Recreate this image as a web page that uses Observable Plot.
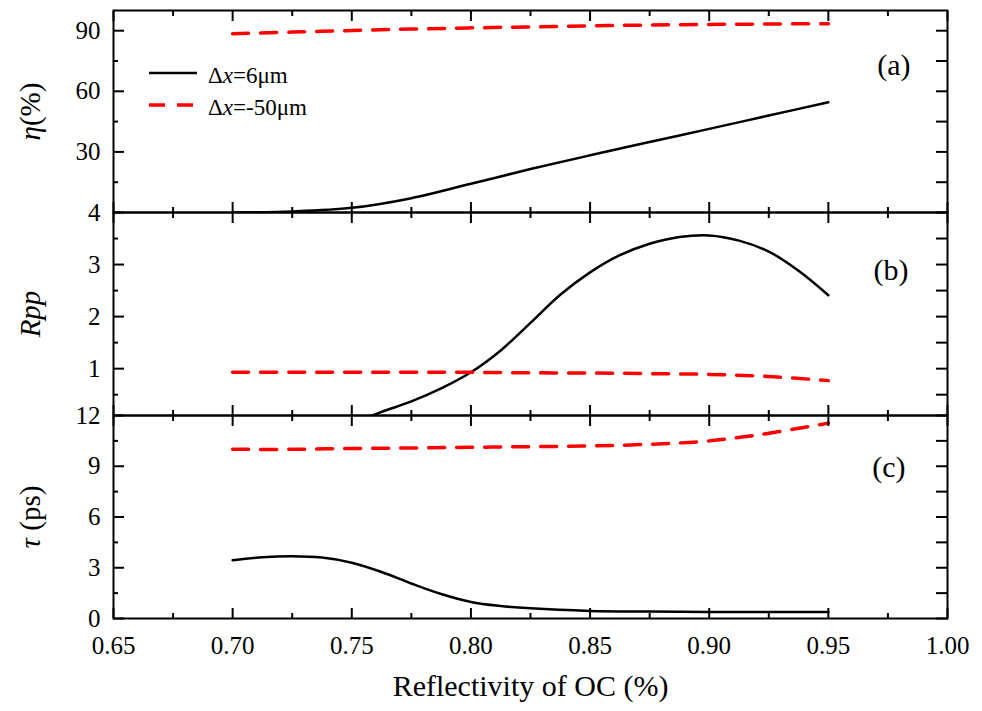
<!DOCTYPE html>
<html><head><meta charset="utf-8">
<script src="https://cdn.jsdelivr.net/npm/d3@7"></script>
<script src="https://cdn.jsdelivr.net/npm/@observablehq/plot@0.6"></script>
<style>
body{margin:0;background:#fff;}
#chart{position:relative;width:982px;height:711px;background:#fff;color:#000;font-family:"Liberation Serif","Times New Roman",serif;}
#chart svg{position:absolute;left:0;top:0;overflow:visible;}
</style></head><body><div id="chart"></div>
<script>
// ---------- data ----------
const xTicksMajor = [0.65, 0.70, 0.75, 0.80, 0.85, 0.90, 0.95, 1.00];
const xTicksMinor = [0.675, 0.725, 0.775, 0.825, 0.875, 0.925, 0.975];
const seriesNames = ["Δx=6μm", "Δx=-50μm"];
const panelLabels = ["(a)", "(b)", "(c)"];
const yTitles = ["η(%)", "Rpp", "τ (ps)"];
const xTitle = "Reflectivity of OC (%)";

const gridR = [0.70, 0.725, 0.75, 0.775, 0.80, 0.825, 0.85, 0.875, 0.90, 0.925, 0.95];

// (a) efficiency η (%)
const etaTicks = [30, 60, 90];
const etaMinor = [15, 45, 75];
const eta6 = [0, 0.5, 2.3, 7.1, 14.2, 21.5, 28.3, 34.9, 41.4, 48.0, 54.6];
const eta50 = [88.5, 89.3, 90.1, 90.8, 91.4, 91.9, 92.4, 92.8, 93.1, 93.3, 93.5];

// (b) Rpp
const rppTicks = [1, 2, 3, 4];
const rppMinor = [0.5, 1.5, 2.5, 3.5];
const rpp6R = [0.75, 0.7625, 0.775, 0.7875, 0.80, 0.8125, 0.825, 0.8375, 0.85, 0.8625, 0.875, 0.8875, 0.90, 0.9125, 0.925, 0.9375, 0.95];
const rpp6 = [-0.05, 0.17, 0.37, 0.62, 0.93, 1.35, 1.88, 2.42, 2.85, 3.18, 3.4, 3.53, 3.56, 3.46, 3.25, 2.88, 2.41];
const rpp50 = [0.93, 0.93, 0.93, 0.93, 0.93, 0.92, 0.915, 0.905, 0.89, 0.85, 0.77];

// (c) pulse width τ (ps)
const tauTicks = [0, 3, 6, 9, 12];
const tauMinor = [1.5, 4.5, 7.5, 10.5];
const tau6R = [0.70, 0.7125, 0.725, 0.7375, 0.75, 0.7625, 0.775, 0.7875, 0.80, 0.8125, 0.825, 0.85, 0.875, 0.90, 0.925, 0.95];
const tau6 = [3.44, 3.62, 3.68, 3.6, 3.3, 2.75, 2.07, 1.45, 0.98, 0.74, 0.6, 0.45, 0.41, 0.39, 0.38, 0.38];
const tau50 = [10.0, 10.0, 10.05, 10.08, 10.12, 10.16, 10.2, 10.3, 10.5, 10.95, 11.55];

// ---------- build ----------
const zip = (xs, ys) => xs.map((x, i) => ({x, y: ys[i]}));
const W = 982, H = 711;
const FONT = "Liberation Serif, Times New Roman, serif";
const RED = "#ff0000";

const panels = [
  {top: 10, bottom: 212, domain: [0, 100], major: etaTicks, minor: etaMinor,
   solid: zip(gridR, eta6), dashed: zip(gridR, eta50), label: panelLabels[0], ldx: -37, ldy: 55, title: yTitles[0]},
  {top: 212, bottom: 415, domain: [0.1, 4], major: rppTicks, minor: rppMinor,
   solid: zip(rpp6R, rpp6), dashed: zip(gridR, rpp50), label: panelLabels[1], ldx: -39, ldy: 58, title: yTitles[1]},
  {top: 415, bottom: 618, domain: [0, 12], major: tauTicks, minor: tauMinor,
   solid: zip(tau6R, tau6), dashed: zip(gridR, tau50), label: panelLabels[2], ldx: -42, ldy: 52, title: yTitles[2], xaxis: true}
];

const chart = document.getElementById("chart");
const svgs = panels.map((p, idx) => {
  const marks = [
    Plot.line(p.solid, {x: "x", y: "y", stroke: "black", strokeWidth: 2.5, curve: "catmull-rom", clip: true}),
    Plot.line(p.dashed, {x: "x", y: "y", stroke: RED, strokeWidth: 3.5, strokeDasharray: "16,12", curve: "catmull-rom", clip: true}),
    Plot.frame({stroke: "black", strokeWidth: 2}),
    // inward ticks
    Plot.axisX({anchor: "top", ticks: xTicksMajor, tickSize: -10, strokeWidth: 2, fill: "none", label: null}),
    Plot.axisX({anchor: "top", ticks: xTicksMinor, tickSize: -5, strokeWidth: 2, fill: "none", label: null}),
    Plot.axisX({anchor: "bottom", ticks: xTicksMajor, tickSize: -10, strokeWidth: 2, fill: "none", label: null}),
    Plot.axisX({anchor: "bottom", ticks: xTicksMinor, tickSize: -5, strokeWidth: 2, fill: "none", label: null}),
    Plot.axisY({anchor: "left", ticks: p.major, tickSize: -11, strokeWidth: 2, fill: "none", label: null}),
    Plot.axisY({anchor: "left", ticks: p.minor, tickSize: -5, strokeWidth: 2, fill: "none", label: null}),
    Plot.axisY({anchor: "right", ticks: p.major.concat(p.minor), tickSize: -12, strokeWidth: 2, fill: "none", label: null}),
    // tick labels
    Plot.axisY({anchor: "left", ticks: p.major, tickSize: 0, tickPadding: 13, fontSize: 25, tickFormat: d => String(d), label: null}),
    // panel label and axis title
    Plot.text([p.label], {frameAnchor: "top-right", dx: p.ldx, dy: p.ldy, textAnchor: "end", lineAnchor: "middle", fontSize: 30}),
    Plot.text([p.title], {frameAnchor: "left", dx: -83, rotate: -90, textAnchor: "middle", lineAnchor: "middle", fontSize: 29})
  ];
  if (p.xaxis) {
    marks.push(Plot.axisX({anchor: "bottom", ticks: xTicksMajor, tickSize: 0, tickPadding: 18, fontSize: 25, tickFormat: d3.format(".2f"), label: null}));
    marks.push(Plot.text([xTitle], {frameAnchor: "bottom", dy: 68, textAnchor: "middle", lineAnchor: "middle", fontSize: 30}));
  }
  const svg = Plot.plot({
    width: W, height: H,
    marginLeft: 113, marginRight: 35, marginTop: p.top, marginBottom: H - p.bottom,
    x: {domain: [0.65, 1.0]},
    y: {domain: p.domain},
    style: {background: "transparent", fontFamily: FONT, overflow: "visible", color: "black"},
    marks
  });
  chart.appendChild(svg);
  return svg;
});

// italic parts in axis titles
const italicMap = {
  "η(%)": '<tspan font-style="italic">η</tspan>(%)',
  "Rpp": '<tspan font-style="italic">Rpp</tspan>',
  "τ (ps)": '<tspan font-style="italic">τ</tspan> (ps)'
};
svgs.forEach(svg => {
  svg.querySelectorAll("text").forEach(t => {
    const k = t.textContent;
    if (italicMap[k]) t.innerHTML = italicMap[k];
  });
});

// legend (panel a)
const lg = d3.select(svgs[0]).append("g").attr("font-family", FONT).attr("font-size", 23).attr("text-anchor", "start");
const legendStyles = [
  {stroke: "black", width: 2.5, dash: null},
  {stroke: RED, width: 3.5, dash: "16,12"}
];
seriesNames.forEach((name, i) => {
  const y = 73 + i * 32;
  lg.append("line").attr("x1", 149).attr("x2", 197).attr("y1", y).attr("y2", y)
    .attr("stroke", legendStyles[i].stroke).attr("stroke-width", legendStyles[i].width)
    .attr("stroke-dasharray", legendStyles[i].dash);
  const t = lg.append("text").attr("x", 208).attr("y", y + 10).attr("fill", "black").attr("text-anchor", "start");
  const m = name.match(/^(Δ)(x)(.*)$/);
  t.append("tspan").text(m[1]);
  t.append("tspan").attr("font-style", "italic").text(m[2]);
  t.append("tspan").text(m[3]);
});
</script></body></html>
